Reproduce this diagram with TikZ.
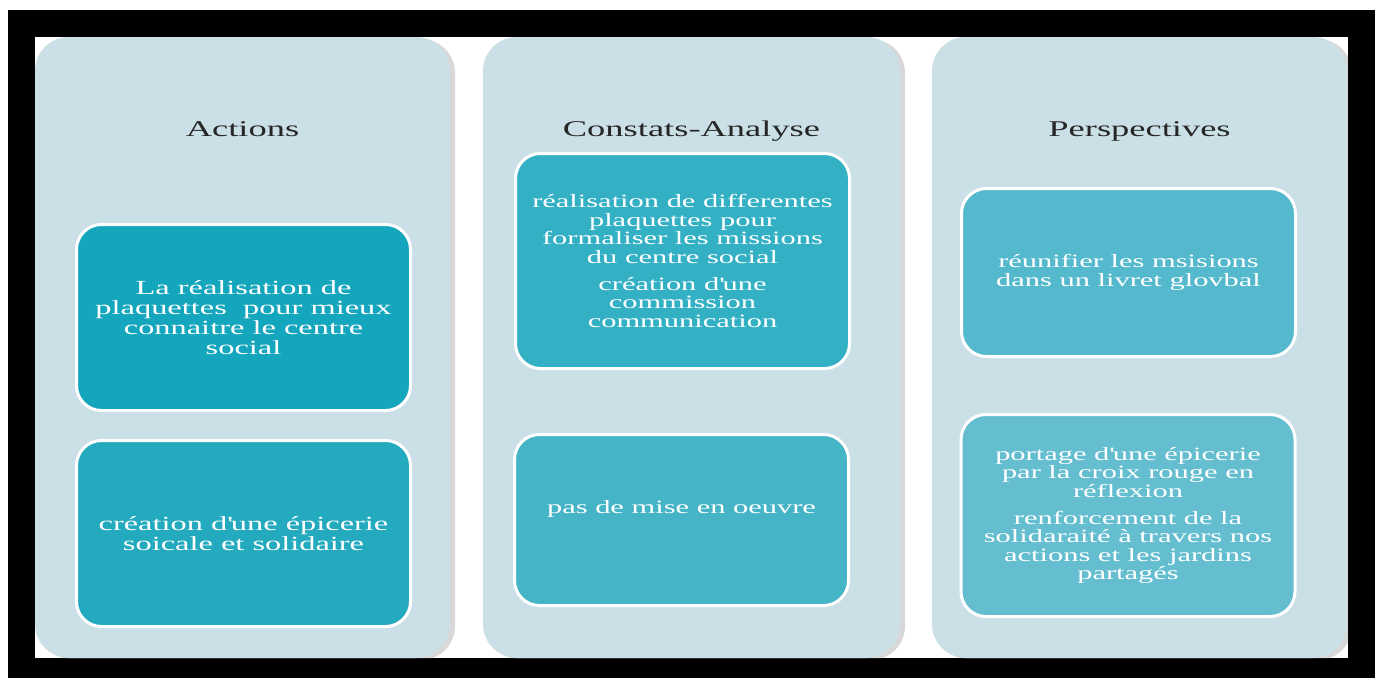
\documentclass[tikz,border=0pt]{standalone}
\usepackage{fontspec}
\setmainfont[FakeStretch=1.62]{Liberation Serif}
\usetikzlibrary{shadows}
\definecolor{panelblue}{RGB}{202,223,230}
\definecolor{cardA}{RGB}{20,166,189}
\definecolor{cardB}{RGB}{36,170,190}
\definecolor{cardC}{RGB}{51,176,196}
\definecolor{cardD}{RGB}{70,180,199}
\definecolor{cardE}{RGB}{84,185,204}
\definecolor{cardF}{RGB}{100,190,208}
\newcommand{\q}{\textquotesingle}
\begin{document}
\begin{tikzpicture}[x=1pt,y=-1pt,
    panel/.style={rectangle,rounded corners=34pt,fill=panelblue,minimum height=621pt,
        inner sep=0pt,outer sep=0pt,
        drop shadow={shadow xshift=5pt,shadow yshift=-2pt,opacity=.25,fill=black!60}},
    coltitle/.style={anchor=base,font=\fontsize{22.5}{26}\selectfont,text=black!85},
    card/.style={rectangle,rounded corners=25pt,draw=white,line width=3pt,
        minimum width=334pt,inner sep=0pt,align=center,text=white,
        font=\fontsize{18.8}{18.6}\selectfont},
    bigcard/.style={card,font=\fontsize{20}{20}\selectfont}]
    \useasboundingbox (0,0) rectangle (1383,678);
    \fill[black] (8,10) rectangle (1375,678);
    \fill[white] (35,37) rectangle (1348,658);

    \begin{scope}
        \clip (35,37) rectangle (1348,658);
        \node[panel,minimum width=415pt] (actions) at (242.5,347.5) {};
        \node[panel,minimum width=417pt] (constats) at (691.5,347.5) {};
        \node[panel,minimum width=415pt] (perspectives) at (1139.5,347.5) {};
    \end{scope}

    \node[coltitle] (tactions) at (242.5,136.5) {Actions};
    \node[coltitle] (tconstats) at (691.5,136.5) {Constats-Analyse};
    \node[coltitle] (tperspectives) at (1139.5,136.5) {Perspectives};

    \node[bigcard,fill=cardA,minimum height=186pt] (plaquettes) at (243.5,317.5)
        {La réalisation de\\plaquettes\ \ pour mieux\\connaitre le centre\\social};
    \node[bigcard,fill=cardB,minimum height=186pt] (epicerie) at (243.5,533.5)
        {création d\q une épicerie\\soicale et solidaire};

    \node[card,fill=cardC,minimum height=215pt] (missions) at (682.5,261)
        {réalisation de differentes\\plaquettes pour\\formaliser les missions\\du centre social\\[8pt]création d\q une\\commission\\communication};
    \node[card,fill=cardD,minimum height=171pt] (oeuvre) at (681.5,520)
        {pas de mise en oeuvre\\[8pt]~};

    \node[card,fill=cardE,minimum height=168pt] (livret) at (1128.5,272.5)
        {réunifier les msisions\\dans un livret glovbal};
    \node[card,fill=cardF,minimum height=202pt] (croixrouge) at (1128,515.5)
        {portage d\q une épicerie\\par la croix rouge en\\réflexion\\[8pt]renforcement de la\\solidaraité à travers nos\\actions et les jardins\\partagés};
\end{tikzpicture}
\end{document}
